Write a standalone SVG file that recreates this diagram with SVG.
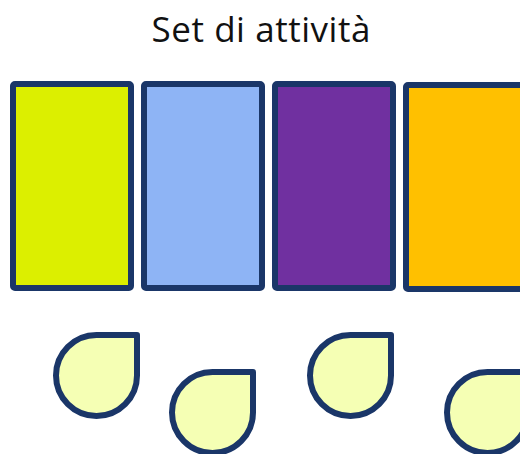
<svg xmlns="http://www.w3.org/2000/svg" width="520" height="454" viewBox="0 0 520 454">
<style>
.box{stroke:#1A3668;stroke-width:6;stroke-linejoin:round}
.drop{fill:#F5FFB4;stroke:#1A3668;stroke-width:6;stroke-linejoin:round}
.title{font-family:"Open Sans","Noto Sans",sans-serif;font-size:35px;fill:#111}
</style>
<defs>
<path id="d" d="M40.5,0 H81 V40.5 A40.5,40.5 0 1 1 40.5,0 Z"/>
</defs>
<g id="title"><text class="title" x="261" y="42" text-anchor="middle" textLength="219" lengthAdjust="spacing">Set di attività</text></g>
<g id="box1"><rect class="box" x="13" y="84" width="118" height="204" rx="2" fill="#DCEF00"/></g>
<g id="box2"><rect class="box" x="144" y="84" width="118" height="204" rx="2" fill="#8EB4F5"/></g>
<g id="box3"><rect class="box" x="275" y="84" width="118" height="204" rx="2" fill="#7030A0"/></g>
<g id="box4"><rect class="box" x="406" y="85" width="118" height="204" rx="2" fill="#FFC000"/></g>
<g id="drop1"><use href="#d" class="drop" x="56" y="335"/></g>
<g id="drop2"><use href="#d" class="drop" x="172" y="372"/></g>
<g id="drop3"><use href="#d" class="drop" x="310" y="335"/></g>
<g id="drop4"><use href="#d" class="drop" x="447" y="372"/></g>
<g id="connectors"></g>
</svg>
